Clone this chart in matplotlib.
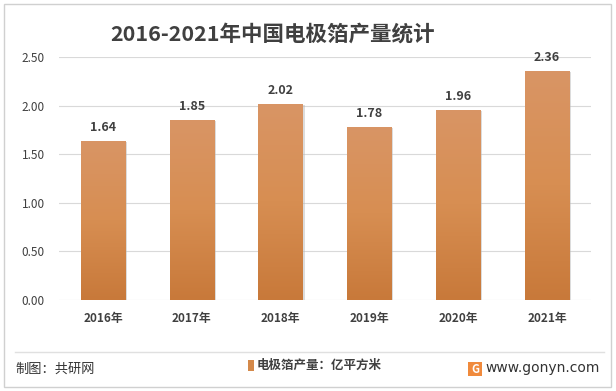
import numpy as np
import matplotlib.pyplot as plt
from matplotlib.colors import LinearSegmentedColormap
from matplotlib.patches import Rectangle

plt.rcParams['font.family'] = ['Noto Sans CJK SC', 'DejaVu Sans']

years = ['2016年', '2017年', '2018年', '2019年', '2020年', '2021年']
output = [1.64, 1.85, 2.02, 1.78, 1.96, 2.36]
yticks = [0.0, 0.5, 1.0, 1.5, 2.0, 2.5]

fig = plt.figure(figsize=(6.16, 3.91), dpi=100)
ax = fig.add_axes([0.095, 0.233, 0.865, 0.621])

x = np.arange(len(years))
bars = ax.bar(x, output, width=0.5, color='none', zorder=3)

# gradient fill: lighter at top, darker at bottom
cmap = LinearSegmentedColormap.from_list('bar', ['#c8793a', '#d78e52', '#d99565'])
grad = np.linspace(0, 1, 256).reshape(-1, 1)
for b in bars:
    x0, w, h = b.get_x(), b.get_width(), b.get_height()
    # soft shadow
    sh = Rectangle((x0 + 0.02, 0), w, h - 0.01, color='#bbbbbb', alpha=0.5, zorder=2, lw=0)
    ax.add_patch(sh)
    im = ax.imshow(grad, extent=[x0, x0 + w, 0, h], origin='lower', cmap=cmap,
                   aspect='auto', zorder=3)
    im.set_clip_path(b)

for xi, v in zip(x, output):
    ax.text(xi, v + 0.07, f'{v:.2f}', ha='center', va='bottom', fontsize=9,
            fontweight='bold', color='#404040', zorder=4)

ax.set_xlim(-0.5, len(years) - 0.5)
ax.set_ylim(0, 2.5)
ax.set_yticks(yticks)
ax.set_yticklabels([f'{t:.2f}' for t in yticks], fontsize=8.5, color='#404040')
ax.set_xticks(x)
ax.set_xticklabels(years, fontsize=8.5, fontweight='bold', color='#404040')
ax.tick_params(length=0, pad=10)
ax.tick_params(axis='x', pad=9)
ax.grid(axis='y', color='#d9d9d9', linewidth=0.8, zorder=0)
for s in ax.spines.values():
    s.set_visible(False)

fig.text(0.443, 0.913, '2016-2021年中国电极箔产量统计', ha='center', va='center',
         fontsize=15.5, fontweight='bold', color='#404040')

# frame and footer
fig.patches.append(Rectangle((0.007, 0.01), 0.985, 0.98, transform=fig.transFigure,
                             fill=False, edgecolor='#d0d0d0', linewidth=1))
fig.add_artist(plt.Line2D([0.025, 0.98], [0.099, 0.099], transform=fig.transFigure,
                          color='#e0e0e0', linewidth=1))
fig.text(0.025, 0.055, '制图：共研网', ha='left', va='center', fontsize=9.5, color='#333333')
fig.patches.append(Rectangle((0.402, 0.052), 0.011, 0.028, transform=fig.transFigure,
                             facecolor='#d4894a', edgecolor='none'))
fig.text(0.417, 0.066, '电极箔产量：亿平方米', ha='left', va='center', fontsize=9,
         fontweight='bold', color='#404040')
fig.patches.append(Rectangle((0.759, 0.039), 0.024, 0.035, transform=fig.transFigure,
                             facecolor='#f08a3c', edgecolor='none'))
fig.text(0.771, 0.056, 'G', ha='center', va='center', fontsize=8, fontweight='bold', color='white')
fig.text(0.973, 0.058, 'www.gonyn.com', ha='right', va='center', fontsize=10,
         color='#333333', family='DejaVu Sans')

fig.savefig('out.png', dpi=100)
